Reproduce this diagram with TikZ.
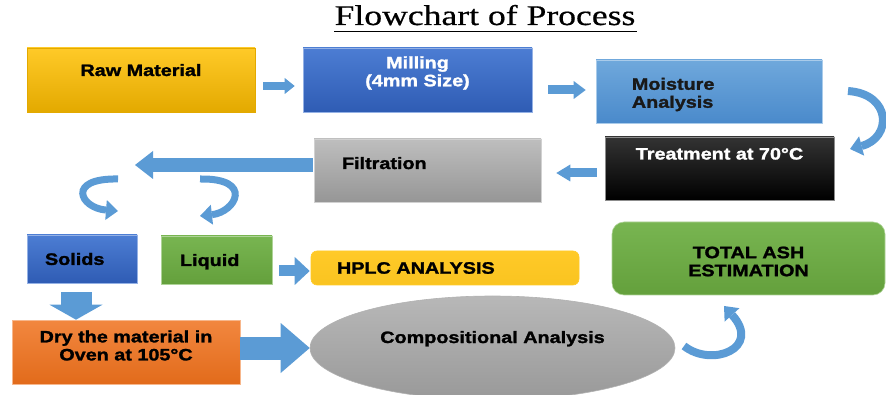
\documentclass[tikz,border=0pt]{standalone}
\usepackage{fontspec}
\setmainfont[FakeStretch=1.2, BoldFeatures={FakeBold=1.6}]{Liberation Sans}
\newfontfamily\titlefont[FakeStretch=1.25, FakeBold=0.6]{Liberation Serif}
\usetikzlibrary{shapes.geometric,arrows.meta}

\definecolor{goldtop}{HTML}{FFCA28}
\definecolor{goldbot}{HTML}{E3A900}
\definecolor{milltop}{HTML}{4C7DD3}
\definecolor{millbot}{HTML}{2F5CB4}
\definecolor{moisttop}{HTML}{6FA8DC}
\definecolor{moistbot}{HTML}{4A8ACB}
\definecolor{filttop}{HTML}{BEBEBE}
\definecolor{filtbot}{HTML}{969696}
\definecolor{liqtop}{HTML}{78B551}
\definecolor{liqbot}{HTML}{64A03C}
\definecolor{drytop}{HTML}{F2873F}
\definecolor{drybot}{HTML}{E26B1B}
\definecolor{arrowblue}{HTML}{5B9BD5}

\begin{document}
\begin{tikzpicture}[x=1pt, y=-1pt, font=\bfseries\fontsize{16.5}{18}\selectfont,
	box/.style={rectangle, draw=#1, line width=0.6pt, align=center},
	lift/.style={text height=12pt, text depth=#1},
	barrow/.style={draw=arrowblue, -{Triangle[line width=0pt, #1]}}]
	\useasboundingbox (0,0) rectangle (886,395);
	\node (title) at (485,25) [anchor=base, inner sep=0pt, font=\titlefont\mdseries\fontsize{28.5}{30}\selectfont] {Flowchart of Process};
	\draw[line width=1.6pt] (title.base west) ++(0,6.5) -- ++(303,0);
	% first row
	\node[top color=goldtop, bottom color=goldbot] (raw) at (141,80) [box=goldbot, minimum width=228pt, minimum height=64pt, lift=20pt] {Raw Material};
	\node[top color=milltop, bottom color=millbot] (mill) at (417.5,80) [box=milltop!60, minimum width=229pt, minimum height=64pt,
		label={[text=white, align=center, yshift=7pt]center:Milling\\(4mm Size)}] {};
	\node[top color=moisttop, bottom color=moistbot] (moist) at (709,91.5) [box=moisttop!60, minimum width=226pt, minimum height=63pt,
		label={[text=black!90, align=left, anchor=west, inner sep=0pt, xshift=36pt, yshift=-3pt]west:Moisture\\Analysis}] {};
	% second row
	\node[top color=black!80, bottom color=black] (treat) at (719.5,168.5) [box=black!45, minimum width=229pt, minimum height=63pt, text=white, lift=30pt] {Treatment at 70°C};
	\node[top color=filttop, bottom color=filtbot] (filt) at (427.5,170.5) [box=filttop!70, minimum width=227pt, minimum height=63pt, text width=171pt, inner xsep=28pt, align=left, lift=15pt] {Filtration};
	% third row
	\node[top color=milltop, bottom color=millbot] (solids) at (82,259) [box=milltop!60, minimum width=110pt, minimum height=48pt, text width=74pt, inner xsep=18pt, align=left] {Solids};
	\node[top color=liqtop, bottom color=liqbot] (liquid) at (216.5,260) [box=liqtop!60, minimum width=111pt, minimum height=48pt, text width=73pt, inner xsep=19pt, align=left, lift=0pt] {Liquid};
	\node[top color=goldtop, bottom color=goldtop!80!goldbot] (hplc) at (445,268) [box=goldtop, rounded corners=6pt, minimum width=268pt, minimum height=34pt, text width=216pt, inner xsep=26pt, align=left] {HPLC ANALYSIS};
	\node[top color=liqtop, bottom color=liqbot] (ash) at (748.5,258.5) [box=liqtop!60, rounded corners=12pt, minimum width=273pt, minimum height=73pt,
		label={[align=center, yshift=-3pt]center:TOTAL ASH\\ESTIMATION}] {};
	% last row
	\node[top color=drytop, bottom color=drybot] (dry) at (126,352) [box=drytop!60, minimum width=228pt, minimum height=64pt,
		label={[align=center, yshift=6.5pt]center:Dry the material in\\Oven at 105°C}] {};
	\node[top color=black!28, bottom color=black!40] (comp) at (492.5,348) [ellipse, draw=black!30, line width=0.6pt, minimum width=365pt, minimum height=104pt, lift=22pt] {Compositional Analysis};
	% free ends of the curved arrows
	\coordinate (fork) at (135,165);
	\coordinate (solstart) at (118,179);
	\coordinate (soltip) at (118,211);
	\coordinate (liqstart) at (200,179);
	\coordinate (liqtip) at (200,216);
	\coordinate (moiststart) at (848,91);
	\coordinate (treattip) at (850,149);
	\coordinate (compstart) at (684,346);
	\coordinate (ashtip) at (724,306);
	% straight arrows
	\draw[barrow={width=16pt,length=10pt}, line width=8pt, shorten <=8pt, shorten >=8pt] ([yshift=-6pt]raw.east) -- ([yshift=-6pt]mill.west);
	\draw[barrow={width=18pt,length=12pt}, line width=9pt, shorten <=16pt, shorten >=10pt] ([yshift=-10pt]mill.east) -- ([yshift=1.5pt]moist.west);
	\draw[barrow={width=17pt,length=14pt}, line width=9pt, shorten <=8pt, shorten >=15pt] ([yshift=-4.5pt]treat.west) -- ([yshift=-2.5pt]filt.east);
	\draw[barrow={width=28pt,length=18pt}, line width=14pt, shorten <=1pt] (filt.west |- fork) -- (fork);
	\draw[barrow={width=53pt,length=15pt}, line width=31pt, shorten <=9pt] ([xshift=-6pt]solids.south) -- ([xshift=-6pt]solids.south |- dry.north);
	\draw[barrow={width=28pt,length=15pt}, line width=11pt, shorten <=7pt, shorten >=1pt] ([yshift=-11pt]liquid.east) -- ([yshift=-3pt]hplc.west);
	\draw[barrow={width=50pt,length=29pt}, line width=23pt] ([yshift=4pt]dry.east) -- (comp.west);
	% curved arrows
	\draw[barrow={width=20pt,length=12pt}, line width=7pt] (solstart) .. controls (66,178) and (80,208) .. (soltip);
	\draw[barrow={width=20pt,length=12pt}, line width=7pt] (liqstart) .. controls (254,178) and (236,212) .. (liqtip);
	\draw[barrow={width=20pt,length=12pt}, line width=8pt] (moiststart) .. controls (892,94) and (892,138) .. (treattip);
	\draw[barrow={width=20pt,length=12pt}, line width=8pt] (compstart) .. controls (712,368) and (762,348) .. (ashtip);
\end{tikzpicture}
\end{document}
